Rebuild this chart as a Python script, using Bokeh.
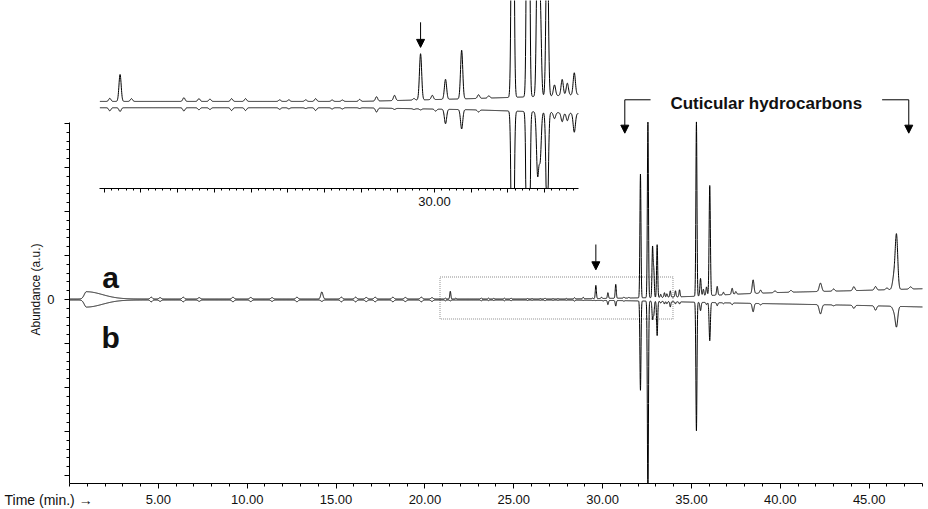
import numpy as np
from bokeh.plotting import figure
from bokeh.models import (Range1d, LinearAxis, FixedTicker, PrintfTickFormatter,
                          Label, Arrow, NormalHead, BoxAnnotation)
from bokeh.embed import file_html
from bokeh.resources import INLINE

# ---------------- data: peak table ----------------
# retention time (min)
peak_time = [4.6, 5.1, 6.4, 7.3, 9.2, 10.2, 11.4, 12.8, 14.2, 15.3, 16.1, 16.7, 17.2, 18.2, 18.9, 19.8, 20.4,
             21.15, 21.43, 21.74, 23.17, 23.58, 23.88, 24.47, 24.85, 25.78, 26.03, 26.49, 26.76, 27.21, 27.49,
             27.96, 28.42, 28.91, 29.44, 29.62, 29.94, 30.03, 30.30, 30.74, 31.20, 31.48,
             32.13, 32.55, 32.81, 32.88, 33.07, 33.27, 33.48, 33.62, 33.81, 34.10, 34.33,
             35.28, 35.51, 35.67, 35.85, 36.03, 36.45, 36.80, 37.29, 37.50, 38.47, 38.89, 39.70, 40.60,
             42.26, 43.00, 44.14, 45.36, 46.00, 46.40, 46.54, 47.33]
# peak height in trace a (drawn upward), abundance units
peak_a = [0.04, 0.03, 0.04, 0.03, 0.04, 0.035, 0.03, 0.04, 0.16, 0.04, 0.04, 0.035, 0.04, 0.04, 0.035, 0.04, 0.03,
          0.02, 0.175, 0.018, 0.024, 0.018, 0.015, 0.018, 0.018, 0.01, 0.01, 0.01, 0.018, 0.009, 0.009,
          0.013, 0.028, 0.034, 0.01, 0.30, 0.028, 0.0, 0.13, 0.316, 0.024, 0.015,
          2.81, 3.99, 1.13, 0.61, 1.2, 0.071, 0.104, 0.078, 0.143, 0.14, 0.16,
          3.96, 0.40, 0.15, 0.2, 2.5, 0.2, 0.06, 0.14, 0.06, 0.31, 0.07, 0.04, 0.04,
          0.19, 0.05, 0.09, 0.08, 0.04, 0.3, 1.2, 0.05]
# peak height in trace b (drawn downward, mirrored)
peak_b = [0.04, 0.03, 0.04, 0.03, 0.04, 0.035, 0.03, 0.04, 0.03, 0.04, 0.04, 0.035, 0.04, 0.04, 0.035, 0.04, 0.03,
          0.02, 0.024, 0.0, 0.021, 0.013, 0.011, 0.018, 0.018, 0.01, 0.007, 0.005, 0.018, 0.008, 0.008,
          0.005, 0.026, 0.007, 0.005, 0.007, 0.0, 0.013, 0.094, 0.126, 0.013, 0.0,
          2.03, 4.6, 0.40, 0.30, 0.78, 0.04, 0.058, 0.05, 0.123, 0.05, 0.05,
          2.92, 0.19, 0.0, 0.05, 0.87, 0.07, 0.02, 0.04, 0.0, 0.19, 0.03, 0.0, 0.0,
          0.21, 0.02, 0.07, 0.10, 0.0, 0.1, 0.45, 0.0]
# peak width (sigma, min)
peak_sigma = [0.06] * 17 + [0.03] * 25 + [0.03] * 11 + \
             [0.03, 0.035, 0.035, 0.035, 0.035, 0.035, 0.035, 0.04, 0.04, 0.05, 0.05, 0.06, 0.06,
              0.07, 0.06, 0.06, 0.06, 0.06, 0.08, 0.07, 0.07]

# baseline drift of the two traces
base_time = [0, 28, 31, 33, 35, 38, 40, 44, 48]
base_a = [0.012, 0.012, 0.03, 0.045, 0.07, 0.13, 0.16, 0.20, 0.245]
base_b = [-0.012, -0.012, -0.025, -0.04, -0.06, -0.085, -0.10, -0.13, -0.17]

# solvent front (asymmetric)
solvent_time, solvent_a, solvent_b, solvent_left, solvent_right = 0.95, 0.165, 0.16, 0.12, 0.9

x_tick_values = [5, 10, 15, 20, 25, 30, 35, 40, 45]
inset_tick_values = list(range(21, 34))
inset_label_tick = 30
inset_magnification = 3.5
inset_offset_a, inset_offset_b = 4.46, 4.40

# ---------------- build traces ----------------
pt = np.asarray(peak_time)[None, :]
ps = np.asarray(peak_sigma)[None, :]


def signal(t, heights, base, solv_h):
    t = np.asarray(t)
    y = np.interp(t, base_time, base)
    g = np.exp(-0.5 * ((t[:, None] - pt) / ps) ** 2)
    y = y + (g * np.asarray(heights)[None, :]).sum(axis=1)
    s = np.where(t < solvent_time, solvent_left, solvent_right)
    y = y + solv_h * np.exp(-0.5 * ((t - solvent_time) / s) ** 2)
    return y


# axis extents (main data units)
X_MIN, X_MAX = 0, 48
Y_AXIS_MIN, Y_AXIS_MAX = -4.1818, 4.02
INSET_AXIS_Y = 2.523
INSET_START, INSET_END = 20.88, 33.92

t_main = np.arange(X_MIN, X_MAX + 0.0001, 0.005)
sig_a = signal(t_main, peak_a, base_a, solvent_a)
sig_b = -signal(t_main, peak_b, [-v for v in base_b], solvent_b)
sig_b = np.maximum(sig_b, Y_AXIS_MIN)

t_in = np.arange(INSET_START, INSET_END + 0.0001, 0.005)
in_a = inset_offset_a + inset_magnification * signal(t_in, peak_a, base_a, solvent_a)
in_b = inset_offset_b - inset_magnification * signal(t_in, peak_b, [-v for v in base_b], solvent_b)
in_a = np.maximum(in_a, INSET_AXIS_Y)
in_b = np.maximum(in_b, INSET_AXIS_Y)

# ---------------- figure (frame covers whole canvas; axes at fixed locations) ----------------
FONT = "Liberation Sans"
p = figure(width=928, height=509, x_range=Range1d(-3.883, 48.34), y_range=Range1d(-4.7727, 6.7955),
           output_backend="svg", toolbar_location=None, x_axis_type=None, y_axis_type=None,
           min_border_left=0, min_border_right=0, min_border_top=0, min_border_bottom=0)
p.extra_x_ranges = {"inset": Range1d(18.171, 43.464)}
p.outline_line_color = None
p.background_fill_color = "white"
p.border_fill_color = "white"
p.xgrid.visible = False
p.ygrid.visible = False


def style_axis(ax, tick_out, minor_out):
    ax.axis_line_color = "black"
    ax.axis_line_width = 1
    ax.major_tick_line_color = "black"
    ax.minor_tick_line_color = "black"
    ax.major_tick_in = 0
    ax.minor_tick_in = 0
    ax.major_tick_out = tick_out
    ax.minor_tick_out = minor_out
    ax.major_label_text_font = FONT
    ax.major_label_text_font_size = "13px"
    ax.major_label_text_color = "#111111"


xaxis = LinearAxis(ticker=FixedTicker(ticks=x_tick_values, minor_ticks=list(range(0, 49))),
                   formatter=PrintfTickFormatter(format="%.2f"),
                   bounds=(X_MIN, X_MAX), fixed_location=Y_AXIS_MIN)
style_axis(xaxis, 5, 3)
xaxis.major_label_standoff = 6
p.add_layout(xaxis, "below")

y_major = [-4, -3, -2, -1, 0, 1, 2, 3, 4]
y_minor = [round(v, 2) for v in np.arange(-4.0, 4.01, 0.2)]
yaxis = LinearAxis(ticker=FixedTicker(ticks=y_major, minor_ticks=y_minor),
                   bounds=(Y_AXIS_MIN, Y_AXIS_MAX), fixed_location=X_MIN,
                   major_label_overrides={v: ("0" if v == 0 else "") for v in y_major})
style_axis(yaxis, 5, 3)
yaxis.major_label_standoff = 10
p.add_layout(yaxis, "left")

inset_axis = LinearAxis(x_range_name="inset",
                        ticker=FixedTicker(ticks=inset_tick_values,
                                           minor_ticks=[round(v, 2) for v in np.arange(21.0, 33.91, 0.2)]),
                        formatter=PrintfTickFormatter(format="%.2f"),
                        major_label_overrides={v: ("30.00" if v == inset_label_tick else "") for v in inset_tick_values},
                        bounds=(INSET_START, INSET_END), fixed_location=INSET_AXIS_Y)
style_axis(inset_axis, 4, 2)
inset_axis.major_label_standoff = 5
p.add_layout(inset_axis, "below")

# traces
p.line(t_main, sig_a, line_color="black", line_width=1)
p.line(t_main, sig_b, line_color="black", line_width=1)
p.line(t_in, in_a, line_color="black", line_width=1, x_range_name="inset")
p.line(t_in, in_b, line_color="black", line_width=1, x_range_name="inset")

# zoom box
p.add_layout(BoxAnnotation(left=20.85, right=33.96, top=0.5114, bottom=-0.4432,
                           fill_color=None, fill_alpha=0, line_color="black",
                           line_dash="1 1", line_width=1.4))

# labels
TXT = "#111111"
p.add_layout(Label(x=2.31, y=0.507, text="a", text_font=FONT, text_font_size="30px", text_color=TXT,
                   text_font_style="bold", text_align="center", text_baseline="alphabetic"))
p.add_layout(Label(x=2.31, y=-0.864, text="b", text_font=FONT, text_font_size="30px", text_color=TXT,
                   text_font_style="bold", text_align="center", text_baseline="alphabetic"))
p.add_layout(Label(x=39.21, y=4.461, text="Cuticular hydrocarbons", text_font=FONT,
                   text_font_size="17px", text_font_style="bold", text_align="center",
                   text_baseline="alphabetic", text_color=TXT))
p.add_layout(Label(x=-1.913, y=0.227, text="Abundance (a.u.)", text_font=FONT, text_font_size="12px",
                   angle=np.pi / 2, text_align="center", text_baseline="middle", text_color=TXT))
p.add_layout(Label(x=-3.658, y=-4.568, text="Time (min.) \u2192", text_font=FONT, text_font_size="14px",
                   text_align="left", text_baseline="middle", text_color=TXT))

# bracket and arrows
p.segment(x0=[32.70, 45.73], y0=[4.539, 4.539], x1=[31.25, 47.23], y1=[4.539, 4.539],
          line_color="black", line_width=1)


def head():
    return NormalHead(size=8, fill_color="black", line_color="black", line_width=1)


for xs, ys, ye in [(31.25, 4.539, 3.78), (47.23, 4.539, 3.78), (29.62, 1.25, 0.675)]:
    p.add_layout(Arrow(end=head(), x_start=xs, y_start=ys, x_end=xs, y_end=ye,
                       line_color="black", line_width=1))
p.add_layout(Arrow(end=head(), x_start=29.62, y_start=6.30, x_end=29.62, y_end=5.73,
                   x_range_name="inset", line_color="black", line_width=1))

open("out.html", "w").write(file_html(p, INLINE))
